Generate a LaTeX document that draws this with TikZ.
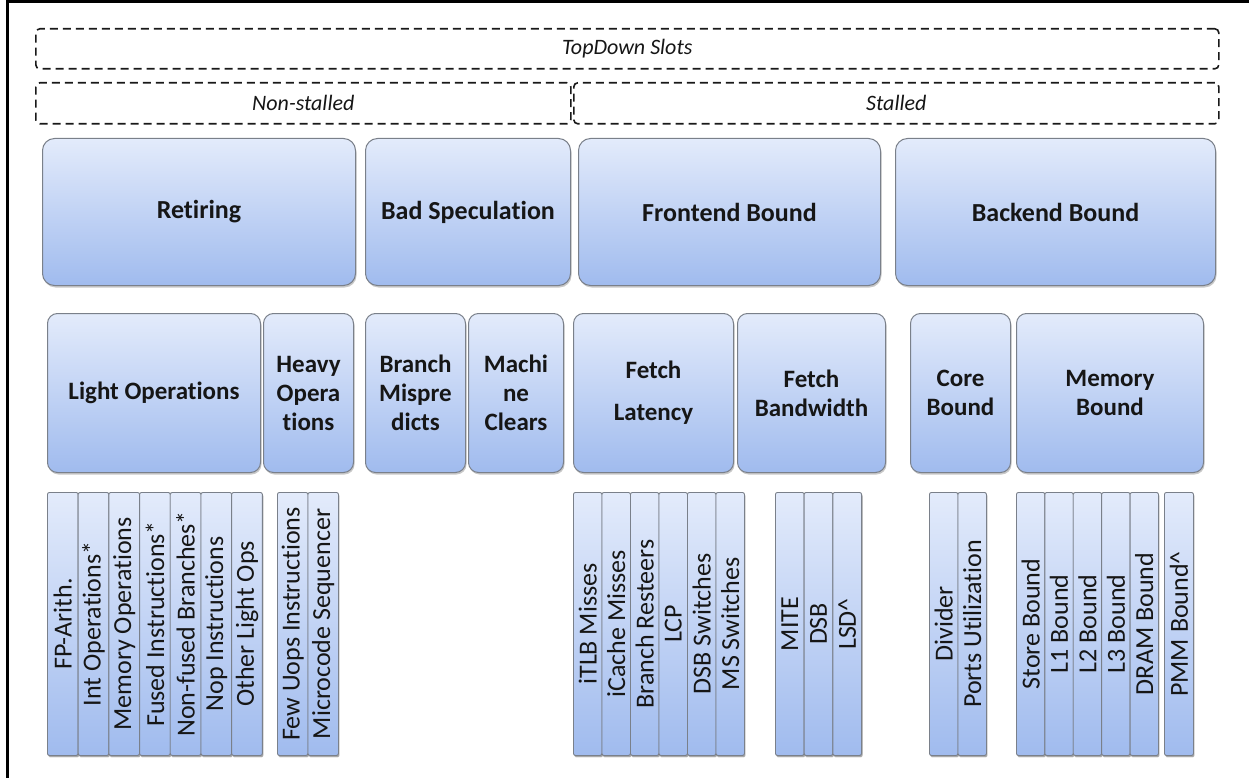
\documentclass[tikz,border=0pt]{standalone}
\usepackage{fontspec}
\setmainfont{Carlito}[Ligatures={NoCommon,NoContextual}]
\usetikzlibrary{shadows}
\definecolor{topc}{HTML}{E3EBFB}
\definecolor{botc}{HTML}{A0BBEE}
\definecolor{edgec}{HTML}{7A808A}
\definecolor{inkc}{HTML}{161616}
\newcommand\tbox[7]{\node[#1, minimum width={#4-#3}, minimum height={#6-#5}] (#2) at (#3,#5) {#7};}
\begin{document}
\begin{tikzpicture}[x=1pt,y=-1pt,
  boxbase/.style={draw=edgec, line width=1pt, top color=topc, bottom color=botc,
    inner sep=0pt, align=center, anchor=north west, text=inkc,
    drop shadow={shadow xshift=1pt, shadow yshift=-2pt, opacity=0.3, fill=black!70}},
  lvlone/.style={boxbase, rounded corners=12pt, font=\fontsize{26}{30}\selectfont\bfseries},
  lvltwo/.style={boxbase, rounded corners=10pt, font=\fontsize{25}{29}\selectfont\bfseries},
  barbox/.style={boxbase, rounded corners=2pt, minimum height=263, line width=0.9pt,
    drop shadow={shadow xshift=1pt, shadow yshift=-1.5pt, opacity=0.25, fill=black!70}},
  bartext/.style={rotate=90, inner sep=0pt, text=inkc, font=\fontsize{26}{30}\selectfont},
  dashbox/.style={draw=black!90, line width=1.6pt, dash pattern=on 8pt off 5pt,
    rounded corners=4pt, inner sep=0pt, anchor=north west, text=inkc,
    font=\fontsize{22}{26}\selectfont\itshape},
  frameline/.style={line width=3pt, black}
]
\useasboundingbox (0,0) rectangle (1249,778);
\fill[white] (0,0) rectangle (1249,778);
\draw[frameline] (7.3,778) -- (7.3,1.5) -- (1249,1.5);

% dashed bands
\tbox{dashbox}{slots}{35}{1218}{28}{68}{TopDown Slots}
\tbox{dashbox}{nonstalled}{35}{570}{82}{123}{Non-stalled}
\tbox{dashbox}{stalled}{573}{1218}{82}{123}{Stalled}

% level 1
\tbox{lvlone}{retiring}{42}{355}{138}{285}{Retiring}
\tbox{lvlone}{badspec}{365}{570}{138}{285}{Bad Speculation}
\tbox{lvlone}{frontend}{578}{880}{138}{285}{Frontend Bound}
\tbox{lvlone}{backend}{895}{1215}{138}{285}{Backend Bound}

% level 2
\tbox{lvltwo}{lightops}{47}{260}{313}{472}{Light Operations}
\tbox{lvltwo}{heavyops}{263}{353}{313}{472}{Heavy\\Opera\\tions}
\tbox{lvltwo}{brmisp}{365}{465}{313}{472}{Branch\\Mispre\\dicts}
\tbox{lvltwo}{mclears}{468}{563}{313}{472}{Machi\\ne\\Clears}
\tbox{lvltwo}{fetchlat}{573}{733}{313}{472}{Fetch\\[13pt]Latency}
\tbox{lvltwo}{fetchbw}{737}{885}{313}{472}{Fetch\\Bandwidth}
\tbox{lvltwo}{corebd}{910}{1010}{313}{472}{Core\\Bound}
\tbox{lvltwo}{membd}{1016}{1203}{313}{472}{Memory\\Bound}

% level 3 bars
\foreach \t [count=\i] in {FP-Arith., Int Operations*, Memory Operations, Fused Instructions*, Non-fused Branches*, Nop Instructions, Other Light Ops}{
  \node[barbox, minimum width=30.7] (lo\i) at ({47+(\i-1)*30.7},492) {};
  \node[bartext] (lot\i) at (lo\i.center) {\t};
}
\foreach \t [count=\i] in {Few Uops Instructions, Microcode Sequencer}{
  \node[barbox, minimum width=30.5] (ho\i) at ({277+(\i-1)*30.5},492) {};
  \node[bartext] (hot\i) at (ho\i.center) {\t};
}
\foreach \t [count=\i] in {iTLB Misses, iCache Misses, Branch Resteers, LCP, DSB Switches, MS Switches}{
  \node[barbox, minimum width=28.5] (fl\i) at ({573+(\i-1)*28.5},492) {};
  \node[bartext] (flt\i) at (fl\i.center) {\t};
}
\foreach \t [count=\i] in {MITE, DSB, LSD\textasciicircum}{
  \node[barbox, minimum width=28.7] (fb\i) at ({775+(\i-1)*28.7},492) {};
  \node[bartext] (fbt\i) at (fb\i.center) {\t};
}
\foreach \t [count=\i] in {Divider, Ports Utilization}{
  \node[barbox, minimum width=28.5] (cb\i) at ({929+(\i-1)*28.5},492) {};
  \node[bartext] (cbt\i) at (cb\i.center) {\t};
}
\foreach \t [count=\i] in {Store Bound, L1 Bound, L2 Bound, L3 Bound, DRAM Bound}{
  \node[barbox, minimum width=28.4] (mb\i) at ({1016+(\i-1)*28.4},492) {};
  \node[bartext] (mbt\i) at (mb\i.center) {\t};
}
\node[barbox, minimum width=29] (pmm) at (1164,492) {};
\node[bartext] (pmmt) at (pmm.center) {PMM Bound\textasciicircum};
\end{tikzpicture}
\end{document}
